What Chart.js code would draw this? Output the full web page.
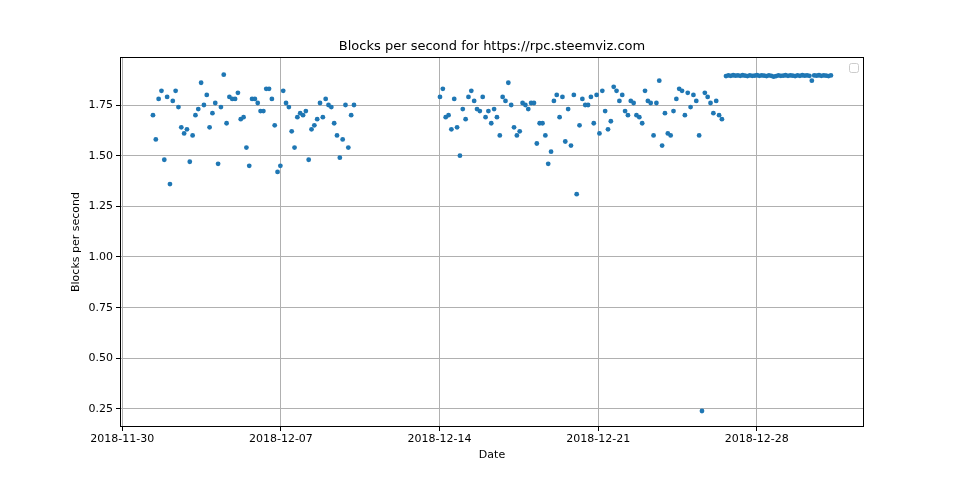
<!DOCTYPE html>
<html><head><meta charset="utf-8">
<script src="https://cdn.jsdelivr.net/npm/chart.js@4/dist/chart.umd.min.js"></script>
<style>html,body{margin:0;background:#fff}#w{width:960px;height:480px}</style>
</head><body><div id="w"><canvas id="c"></canvas></div>
<script>
// days since 2018-11-30 of each observation run (regular sampling)
const runStarts = [1.355, 14.02, 26.64];
const runEnds = [10.225, 26.46, 31.27];
const run1 = [1.70,1.58,1.78,1.82,1.48,1.79,1.36,1.77,1.82,1.74,1.64,1.61,1.63,1.47,1.60,1.70,1.73,1.86,1.75,1.80,1.64,1.71,1.76,1.46,1.74,1.90,1.66,1.79,1.78,1.78,1.81,1.68,1.69,1.54,1.45,1.78,1.78,1.76,1.72,1.72,1.83,1.83,1.78,1.65,1.42,1.45,1.82,1.76,1.74,1.62,1.54,1.69,1.71,1.70,1.72,1.48,1.63,1.65,1.68,1.76,1.69,1.78,1.75,1.74,1.66,1.60,1.49,1.58,1.75,1.54,1.70,1.75];
const run2 = [1.79,1.83,1.69,1.70,1.63,1.78,1.64,1.50,1.73,1.68,1.79,1.82,1.77,1.73,1.72,1.79,1.69,1.72,1.66,1.73,1.69,1.60,1.79,1.77,1.86,1.75,1.64,1.60,1.62,1.76,1.75,1.73,1.76,1.76,1.56,1.66,1.66,1.60,1.46,1.52,1.77,1.80,1.69,1.79,1.57,1.73,1.55,1.80,1.31,1.65,1.78,1.75,1.75,1.79,1.66,1.80,1.61,1.82,1.72,1.63,1.67,1.84,1.82,1.77,1.80,1.72,1.70,1.77,1.76,1.70,1.69,1.66,1.82,1.77,1.76,1.60,1.76,1.87,1.55,1.71,1.61,1.60,1.72,1.78,1.83,1.82,1.70,1.81,1.74,1.80,1.77,1.60,0.24,1.81,1.79,1.76,1.71,1.77,1.70,1.68];
const run3 = [1.893,1.896,1.894,1.897,1.895,1.896,1.894,1.897,1.895,1.893,1.896,1.894,1.895,1.897,1.894,1.896,1.895,1.893,1.896,1.894,1.890,1.893,1.896,1.894,1.895,1.897,1.894,1.896,1.895,1.893,1.896,1.894,1.897,1.895,1.896,1.894,1.870,1.896,1.895,1.897,1.894,1.896,1.895,1.893,1.896];
const runs = [run1, run2, run3];
const xTicks = [0, 7, 14, 21, 28];
const xTickLabels = ['2018-11-30','2018-12-07','2018-12-14','2018-12-21','2018-12-28'];
const yTicks = [0.25,0.50,0.75,1.00,1.25,1.50,1.75];

const pts = [];
runs.forEach((r, k) => {
  const n = r.length, s = runStarts[k], e = runEnds[k];
  r.forEach((v, i) => pts.push({x: s + (e - s) * i / (n - 1), y: v}));
});

const deco = {
  id: 'deco',
  afterDraw(ch) {
    const c = ch.ctx, a = ch.chartArea;
    c.save();
    c.fillStyle = '#000';
    c.font = '13px "DejaVu Sans"';
    c.textAlign = 'center'; c.textBaseline = 'bottom';
    c.fillText('Blocks per second for https://rpc.steemviz.com', (a.left + a.right) / 2, a.top - 4);
    c.font = '11px "DejaVu Sans"';
    c.textBaseline = 'middle';
    c.fillText('Date', (a.left + a.right) / 2, 455);
    c.translate(76, (a.top + a.bottom) / 2);
    c.rotate(-Math.PI / 2);
    c.fillText('Blocks per second', 0, 0);
    c.setTransform(ch.currentDevicePixelRatio, 0, 0, ch.currentDevicePixelRatio, 0, 0);
    c.strokeStyle = '#ccc'; c.lineWidth = 1;
    c.beginPath(); c.roundRect(a.right - 14.5, a.top + 6.5, 9, 9, 2); c.stroke();
    c.strokeStyle = '#000';
    c.strokeRect(a.left + 0.5, a.top + 0.5, a.right - a.left - 1, a.bottom - a.top - 1);
    c.restore();
  }
};

new Chart(document.getElementById('c'), {
  type: 'scatter',
  data: {datasets: [{data: pts, backgroundColor: '#1f77b4', borderWidth: 0, pointRadius: 2.4}]},
  options: {
    responsive: true, maintainAspectRatio: false, animation: false,
    layout: {padding: {top: 57, right: 96, left: 0, bottom: 0}},
    plugins: {legend: {display: false}, tooltip: {enabled: false}},
    scales: {
      x: {
        type: 'linear', min: -0.1, max: 32.73,
        afterBuildTicks: ax => { ax.ticks = xTicks.map(v => ({value: v})); },
        afterFit: ax => { ax.height = 53; },
        ticks: {callback: v => xTickLabels[xTicks.indexOf(v)], color: '#000', font: {size: 11, family: 'DejaVu Sans'}, maxRotation: 0, padding: 2},
        grid: {color: '#b0b0b0', tickColor: '#000', tickLength: 4},
        border: {display: false}
      },
      y: {
        min: 0.161, max: 1.987,
        afterBuildTicks: ax => { ax.ticks = yTicks.map(v => ({value: v})); },
        afterFit: ax => { ax.width = 120; },
        ticks: {callback: v => v.toFixed(2), color: '#000', font: {size: 11, family: 'DejaVu Sans'}, padding: 3},
        grid: {color: '#b0b0b0', tickColor: '#000', tickLength: 4},
        border: {display: false}
      }
    }
  },
  plugins: [deco]
});
</script></body></html>
